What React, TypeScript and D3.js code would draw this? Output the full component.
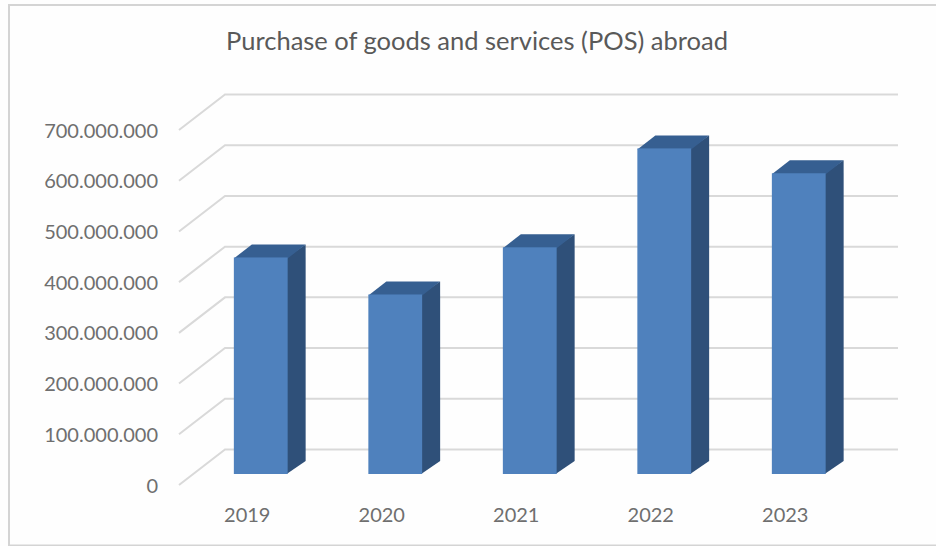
import React from "react";
import * as d3 from "d3";

const years = ["2019", "2020", "2021", "2022", "2023"];
const purchases = [427000000, 354000000, 447000000, 642000000, 593000000];
const axisTicks = [0, 100000000, 200000000, 300000000, 400000000, 500000000, 600000000, 700000000];
const chartTitle = "Purchase of goods and services (POS) abroad";

const W = 936;
const H = 546;
const FONT = "Lato, 'Open Sans', sans-serif";

// Oblique offsets of the 3D box
const floorDx = 46;
const floorDy = 35.5;
const barDx = 18;
const barDy = 13;

const wallY = d3.scaleLinear().domain([0, 700000000]).range([449.5, 94.5]);
const frontY = (v: number) => wallY(v) + floorDy;
const barY = (v: number) => wallY(v) + 24.5;
const x = d3.scaleBand().domain(years).range([193.5, 866]).paddingInner(0.6).paddingOuter(0.3);
const fmt = (v: number) => d3.format(",")(v).replace(/,/g, ".");

export default function App() {
  const wallLeft = 179 + floorDx;
  return (
    <svg
      width={W}
      height={H}
      viewBox={`0 0 ${W} ${H}`}
      style={{ position: "fixed", left: 0, top: 0, background: "#fefefe" }}
    >
      <path d={`M${W},5H9V545.5H${W}`} fill="none" stroke="#d4d4d4" strokeWidth={2} />
      <text x={477} y={50} textAnchor="middle" fontFamily={FONT} fontSize={25.5} fill="#595959">
        {chartTitle}
      </text>
      {axisTicks.map((t) => (
        <g key={t}>
          <path
            d={`M179,${frontY(t)}L${wallLeft},${wallY(t)}H898`}
            fill="none"
            stroke="#d9d9d9"
            strokeWidth={2}
          />
          <text
            x={158}
            y={frontY(t) + 7.5}
            textAnchor="end"
            fontFamily={FONT}
            fontSize={20}
            fill="#6f6f6f"
          >
            {fmt(t)}
          </text>
        </g>
      ))}
      {years.map((yr, i) => {
        const x0 = x(yr)!;
        const x1 = x0 + x.bandwidth();
        const top = barY(purchases[i]);
        const base = barY(0);
        return (
          <g key={yr}>
            <path
              d={`M${x1 - 1},${top}L${x1 + barDx},${top - barDy}V${base - barDy}L${x1 - 1},${base}Z`}
              fill="#2f5079"
            />
            <path
              d={`M${x0},${top + 1}L${x0 + barDx},${top - barDy}H${x1 + barDx}L${x1},${top + 1}Z`}
              fill="#365f91"
            />
            <rect x={x0} y={top} width={x1 - x0} height={base - top} fill="#4f81bd" />
            <text
              x={(x0 + x1) / 2 - 13.5}
              y={522}
              textAnchor="middle"
              fontFamily={FONT}
              fontSize={20}
              fill="#6f6f6f"
            >
              {yr}
            </text>
          </g>
        );
      })}
    </svg>
  );
}
